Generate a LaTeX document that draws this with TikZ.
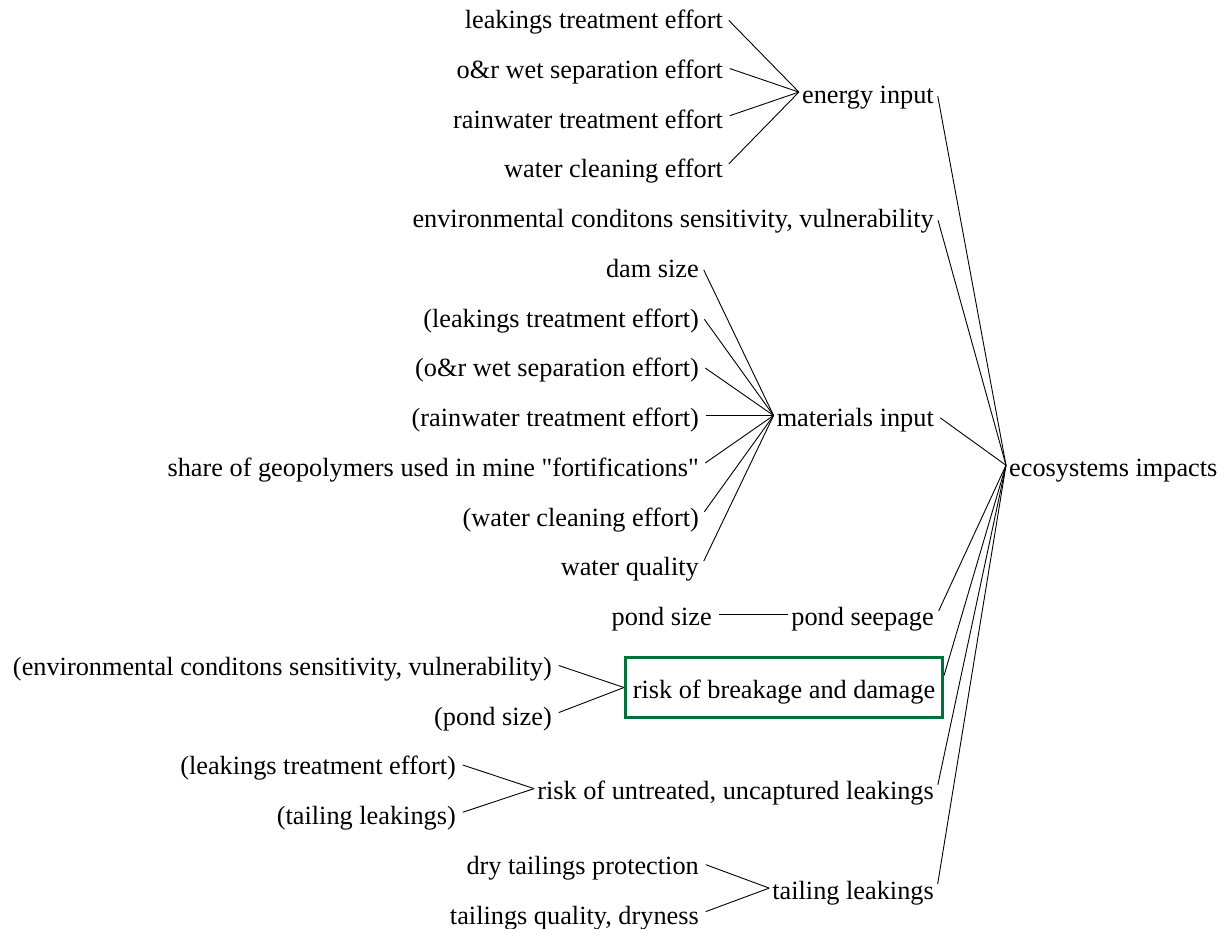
\documentclass[tikz,border=0pt]{standalone}
\usepackage{fontspec}
\setmainfont{Liberation Serif}[Ligatures=TeXOff]
\definecolor{boxgreen}{RGB}{0,112,60}
\newcommand{\fs}{\fontsize{26.3}{30}\selectfont}
\tikzset{
  lbl/.style={inner xsep=3pt, inner ysep=0pt, text height=22pt, text depth=0pt, font=\fs},
  src/.style={lbl, anchor=base east},
  tgt/.style={lbl, anchor=base west},
  link/.style={line width=0.9pt, shorten <=4pt},
  hl/.style={draw=boxgreen, line width=3pt, inner xsep=4pt, inner ysep=0pt, text height=22pt, text depth=0pt, font=\fs, minimum width=317pt, minimum height=60pt}
}
\begin{document}
\begin{tikzpicture}[x=1pt,y=-1pt]
\useasboundingbox (0,0) rectangle (1224,929);
% energy input group
\node[src] (a1) at (726,28.5) {leakings treatment effort};
\node[src] (a2) at (726,78.25) {o\&r wet separation effort};
\node[src] (a3) at (726,128) {rainwater treatment effort};
\node[src] (a4) at (726,177.75) {water cleaning effort};
\node[src] (ei) at (937,103.1) {energy input};
% environment
\node[src] (ec) at (937,227.5) {environmental conditons sensitivity, vulnerability};
% materials group
\node[src] (m1) at (702,277.25) {dam size};
\node[src] (m2) at (702,327) {(leakings treatment effort)};
\node[src] (m3) at (702,376.75) {(o\&r wet separation effort)};
\node[src] (m4) at (702,426.5) {(rainwater treatment effort)};
\node[src] (m5) at (702,476.25) {share of geopolymers used in mine "fortifications"};
\node[src] (m6) at (702,526) {(water cleaning effort)};
\node[src] (m7) at (702,575.75) {water quality};
\node[src] (mi) at (937,426.5) {materials input};
% ecosystems
\node[tgt] (eco) at (1006,476.25) {ecosystems impacts};
% pond
\node[src] (ps) at (715,625.5) {pond size};
\node[src] (pse) at (937,625.5) {pond seepage};
% risk of breakage
\node[src] (r1) at (555,675.25) {(environmental conditons sensitivity, vulnerability)};
\node[src] (r2) at (555,725) {(pond size)};
\node[hl] (rb) at (784,687.5) {risk of breakage and damage};
% risk of untreated
\node[src] (u1) at (459,774.75) {(leakings treatment effort)};
\node[src] (u2) at (459,824.5) {(tailing leakings)};
\node[src] (ru) at (937,799.6) {risk of untreated, uncaptured leakings};
% tailing leakings
\node[src] (t1) at (702,874.25) {dry tailings protection};
\node[src] (t2) at (702,924) {tailings quality, dryness};
\node[src] (tl) at (937,899.1) {tailing leakings};
% connectors
\foreach \s in {a1,a2,a3,a4} \draw[link] (\s.east) -- (ei.west);
\foreach \s in {m1,m2,m3,m4,m5,m6,m7} \draw[link] (\s.east) -- (mi.west);
\draw[link] (ps.east) -- (pse.west);
\foreach \s in {r1,r2} \draw[link] (\s.east) -- (rb.west);
\foreach \s in {u1,u2} \draw[link] (\s.east) -- (ru.west);
\foreach \s in {t1,t2} \draw[link] (\s.east) -- (tl.west);
\foreach \s in {ei,ec,mi,pse,ru,tl} \draw[link] (\s.east) -- (eco.west);
\draw[link, shorten <=0pt] ([yshift=12pt]rb.east) -- (eco.west);
\end{tikzpicture}
\end{document}
